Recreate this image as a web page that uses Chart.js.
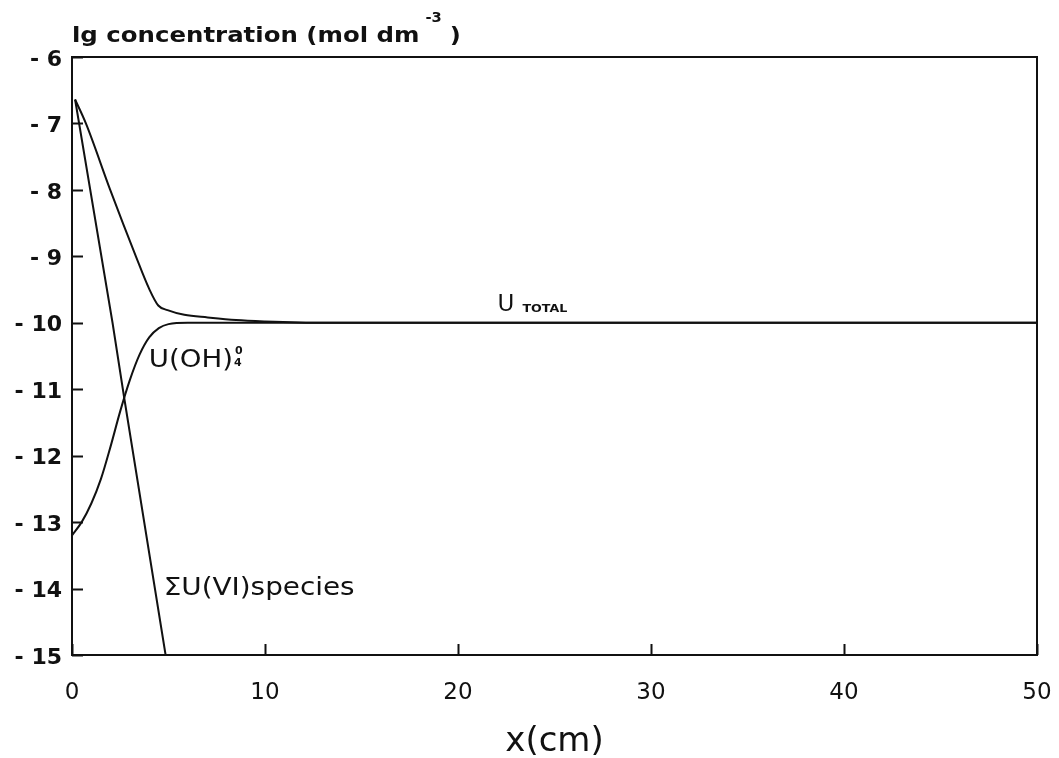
<!DOCTYPE html>
<html>
<head>
<meta charset="utf-8">
<title>U concentration profile</title>
<script src="https://cdn.jsdelivr.net/npm/chart.js@4"></script>
<style>
  html, body { margin: 0; padding: 0; background: #fff; }
  #wrap { width: 1059px; height: 758px; position: relative; }
</style>
</head>
<body>
<div id="wrap"><canvas id="profile"></canvas></div>
<script>
// axis ticks
const xTicks = [0, 10, 20, 30, 40, 50];
const yTicks = [-6, -7, -8, -9, -10, -11, -12, -13, -14, -15];

// total uranium
const totalX = [0.16, 0.72, 1.98, 3.31, 4.0, 4.47, 4.95, 5.82, 7.03, 8.5, 10, 13, 20, 30, 40, 50];
const totalY = [-6.64, -7.0, -8.0, -9.0, -9.49, -9.74, -9.81, -9.88, -9.92, -9.96, -9.98, -10, -10, -10, -10, -10];

// U(OH)4 neutral species
const hydroxoX = [0, 0.5, 1.0, 1.5, 2.0, 2.5, 3.0, 3.5, 4.0, 4.5, 5.0, 6.0, 13, 50];
const hydroxoY = [-13.2, -13.0, -12.72, -12.35, -11.86, -11.33, -10.86, -10.48, -10.22, -10.08, -10.02, -10.0, -10, -10];

// sum of U(VI) species
const sixX = [0.16, 2.1, 2.71, 4.85];
const sixY = [-6.64, -10.0, -11.14, -15.0];

const ink = '#111';

function pts(xs, ys) {
  return xs.map((x, i) => ({ x: x, y: ys[i] }));
}

// text drawn with a horizontal stretch, returns advance width
function wideText(ctx, text, x, y, font, sx) {
  ctx.save();
  ctx.font = font;
  ctx.fillStyle = ink;
  ctx.textAlign = 'left';
  ctx.textBaseline = 'alphabetic';
  const w = ctx.measureText(text).width * sx;
  ctx.translate(x, y);
  ctx.scale(sx, 1);
  ctx.fillText(text, 0, 0);
  ctx.restore();
  return w;
}

const framePlugin = {
  id: 'frame',
  afterDraw(chart) {
    const ctx = chart.ctx;
    const a = chart.chartArea;
    const xs = chart.scales.x, ys = chart.scales.y;
    ctx.save();
    ctx.strokeStyle = ink;
    ctx.lineWidth = 2;
    ctx.strokeRect(a.left, a.top, a.right - a.left, a.bottom - a.top);
    ctx.beginPath();
    yTicks.forEach(v => {
      const py = Math.round(ys.getPixelForValue(v)) + 0.5;
      ctx.moveTo(a.left, py);
      ctx.lineTo(a.left + 11, py);
    });
    xTicks.forEach(v => {
      const px = Math.round(xs.getPixelForValue(v)) + 0.5;
      ctx.moveTo(px, a.bottom);
      ctx.lineTo(px, a.bottom - 11);
    });
    ctx.stroke();
    ctx.restore();
  }
};

const labelPlugin = {
  id: 'labels',
  afterDraw(chart) {
    const ctx = chart.ctx;
    const a = chart.chartArea;
    const xs = chart.scales.x, ys = chart.scales.y;

    // y axis title
    let w = wideText(ctx, 'lg concentration (mol dm', a.left, 42, 'bold 22px "DejaVu Sans"', 1.11);
    let w2 = wideText(ctx, '-3', a.left + w + 6, 22, 'bold 14px "DejaVu Sans"', 1.05);
    wideText(ctx, ')', a.left + w + w2 + 14, 42, 'bold 22px "DejaVu Sans"', 1.1);

    // x axis title
    ctx.save();
    ctx.font = '34px "DejaVu Sans"';
    ctx.fillStyle = ink;
    ctx.textAlign = 'center';
    ctx.textBaseline = 'alphabetic';
    ctx.fillText('x(cm)', (a.left + a.right) / 2, 751);
    ctx.restore();

    // curve labels
    let px = xs.getPixelForValue(22.05);
    let py = ys.getPixelForValue(-9.83);
    w = wideText(ctx, 'U', px, py, '23px "DejaVu Sans"', 1.0);
    wideText(ctx, 'TOTAL', px + w + 8, py + 1, 'bold 11px "DejaVu Sans"', 1.15);

    px = xs.getPixelForValue(3.98);
    py = ys.getPixelForValue(-10.67);
    w = wideText(ctx, 'U(OH)', px, py, '24px "DejaVu Sans"', 1.15);
    wideText(ctx, '0', px + w + 2, py - 13, 'bold 11px "DejaVu Sans"', 1.0);
    wideText(ctx, '4', px + w + 1, py - 1, 'bold 11px "DejaVu Sans"', 1.0);

    px = xs.getPixelForValue(4.75);
    py = ys.getPixelForValue(-14.1);
    wideText(ctx, '\u03A3U(VI)species', px, py, '24px "DejaVu Sans"', 1.16);
  }
};

const line = {
  showLine: true,
  borderColor: ink,
  borderWidth: 2,
  pointRadius: 0,
  fill: false,
  cubicInterpolationMode: 'monotone'
};

new Chart(document.getElementById('profile'), {
  type: 'scatter',
  data: {
    datasets: [
      Object.assign({ label: 'U total', data: pts(totalX, totalY) }, line),
      Object.assign({ label: 'U(OH)4', data: pts(hydroxoX, hydroxoY) }, line),
      Object.assign({ label: 'U(VI)', data: pts(sixX, sixY) }, line, { cubicInterpolationMode: 'default', tension: 0 })
    ]
  },
  options: {
    responsive: true,
    maintainAspectRatio: false,
    animation: false,
    layout: { padding: { top: 57, right: 22, left: 0, bottom: 0 } },
    plugins: {
      legend: { display: false },
      tooltip: { enabled: false }
    },
    scales: {
      x: {
        type: 'linear',
        min: 0,
        max: 50,
        afterBuildTicks: s => { s.ticks = xTicks.map(v => ({ value: v })); },
        afterFit: s => {
          s.height = 103;
          // let the end labels hang past the frame
          s.paddingLeft = 0;
          s.paddingRight = 0;
        },
        grid: { display: false, drawTicks: false },
        border: { display: false },
        ticks: {
          color: ink,
          padding: 24,
          maxRotation: 0,
          font: { family: 'DejaVu Sans', size: 23 }
        }
      },
      y: {
        type: 'linear',
        min: -15,
        max: -6,
        afterBuildTicks: s => { s.ticks = yTicks.map(v => ({ value: v })); },
        afterFit: s => {
          s.width = 72;
          s.paddingTop = 0;
          s.paddingBottom = 0;
        },
        grid: { display: false, drawTicks: false },
        border: { display: false },
        ticks: {
          color: ink,
          padding: 10,
          labelOffset: 3,
          font: { family: 'DejaVu Sans', size: 22, weight: 'bold' },
          callback: v => '- ' + Math.abs(v)
        }
      }
    }
  },
  plugins: [framePlugin, labelPlugin]
});
</script>
</body>
</html>
